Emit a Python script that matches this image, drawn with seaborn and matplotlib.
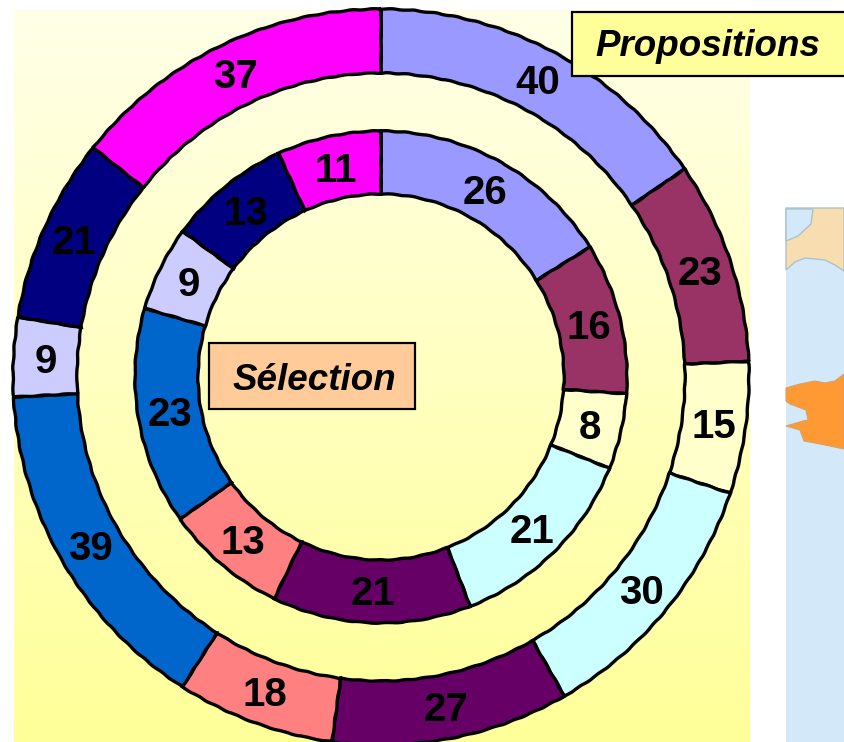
import numpy as np
import matplotlib.pyplot as plt
from matplotlib.patches import Polygon, Rectangle
import seaborn as sns

outer_values = [40, 23, 15, 30, 27, 18, 39, 9, 21, 37]
inner_values = [26, 16, 8, 21, 21, 13, 23, 9, 13, 11]
hex_colors = ["#9999FF", "#993366", "#FFFFCC", "#CCFFFF", "#660066",
              "#FF8080", "#0066CC", "#CCCCFF", "#000080", "#FF00FF"]
title_outer = "Propositions"
title_inner = "Sélection"

sns.set_theme(style="white")
plt.rcParams['font.family'] = ['Liberation Sans', 'DejaVu Sans']
colors = sns.color_palette(hex_colors)

W, H = 844, 742
fig = plt.figure(figsize=(W / 100, H / 100), dpi=100)
ax = fig.add_axes([0, 0, 1, 1])


def py(y):
    # picture rows -> axes y
    return H - y


# background gradient
grad = np.linspace(0, 1, 256).reshape(-1, 1, 1)
top = np.array([1.0, 1.0, 0.91]).reshape(1, 1, 3)
bottom = np.array([1.0, 1.0, 0.60]).reshape(1, 1, 3)
ax.imshow(top + (bottom - top) * grad, extent=[14, 750, py(742), py(10)],
          aspect='auto', zorder=0)

# map on the right
ax.add_patch(Rectangle((786, 0), 58, py(208), fc="#D3E8F8", ec="none", zorder=0.5))
tan = [(786, 208), (844, 208), (844, 271), (835, 265), (825, 260), (815, 259),
       (805, 258), (795, 262), (786, 270)]
ax.add_patch(Polygon([(x, py(y)) for x, y in tan], fc="#F8DDB0", ec="#A9C3CC", lw=1, zorder=0.6))
ax.add_patch(Polygon([(x, py(y)) for x, y in [(786, 209), (813, 209), (811, 224), (798, 236), (786, 241)]],
                     fc="#D3E8F8", ec="#A9C3CC", lw=1, zorder=0.7))
brittany = [(786, 388), (800, 384), (815, 381), (825, 383), (835, 381), (844, 374),
            (844, 449), (830, 446), (815, 443), (804, 441), (800, 430), (786, 426),
            (803, 421), (808, 420), (806, 410), (790, 404), (786, 401)]
ax.add_patch(Polygon([(x, py(y)) for x, y in brittany], fc="#FF9933", ec="#D9A066", lw=0.8, zorder=0.7))

cx, cy = 381, py(377)
edge = dict(edgecolor="black", linewidth=2.4)

# outer ring
outer_w, outer_txt = ax.pie(outer_values, colors=colors, labels=outer_values, center=(cx, cy), radius=368,
                            startangle=90, counterclock=False, labeldistance=0.913,
                            wedgeprops=dict(width=64, **edge))
# inner ring
inner_w, inner_txt = ax.pie(inner_values, colors=colors, labels=inner_values, center=(cx, cy), radius=246,
                            startangle=90, counterclock=False, labeldistance=0.87,
                            wedgeprops=dict(width=63, **edge))
for w in outer_w + inner_w:
    # slight wobble of the ring edges
    w.set_sketch_params(scale=0.35, length=25, randomness=2)
for t in outer_txt + inner_txt:
    t.set_ha('center')
    t.set_va('center')
    t.set_fontsize(29)
    t.set_fontweight('bold')
    t.set_color('black')
    t.set_y(t.get_position()[1] - 3)

# the two name boxes
ax.add_patch(Rectangle((572, py(76)), 280, 64, fc="#FFFF99", ec="black", lw=1.6, zorder=5))
ax.text(708, py(47), title_outer, fontsize=26.5, fontweight='bold', fontstyle='italic',
        ha='center', va='center', color='black', zorder=6)
ax.add_patch(Rectangle((209, py(409)), 206, 66, fc="#FFCC99", ec="black", lw=1.6, zorder=5))
ax.text(314.5, py(380), title_inner, fontsize=26.5, fontweight='bold', fontstyle='italic',
        ha='center', va='center', color='black', zorder=6)

ax.set_xlim(0, W)
ax.set_ylim(0, H)
ax.axis('off')
fig.savefig("out.png", dpi=100, facecolor='white')
